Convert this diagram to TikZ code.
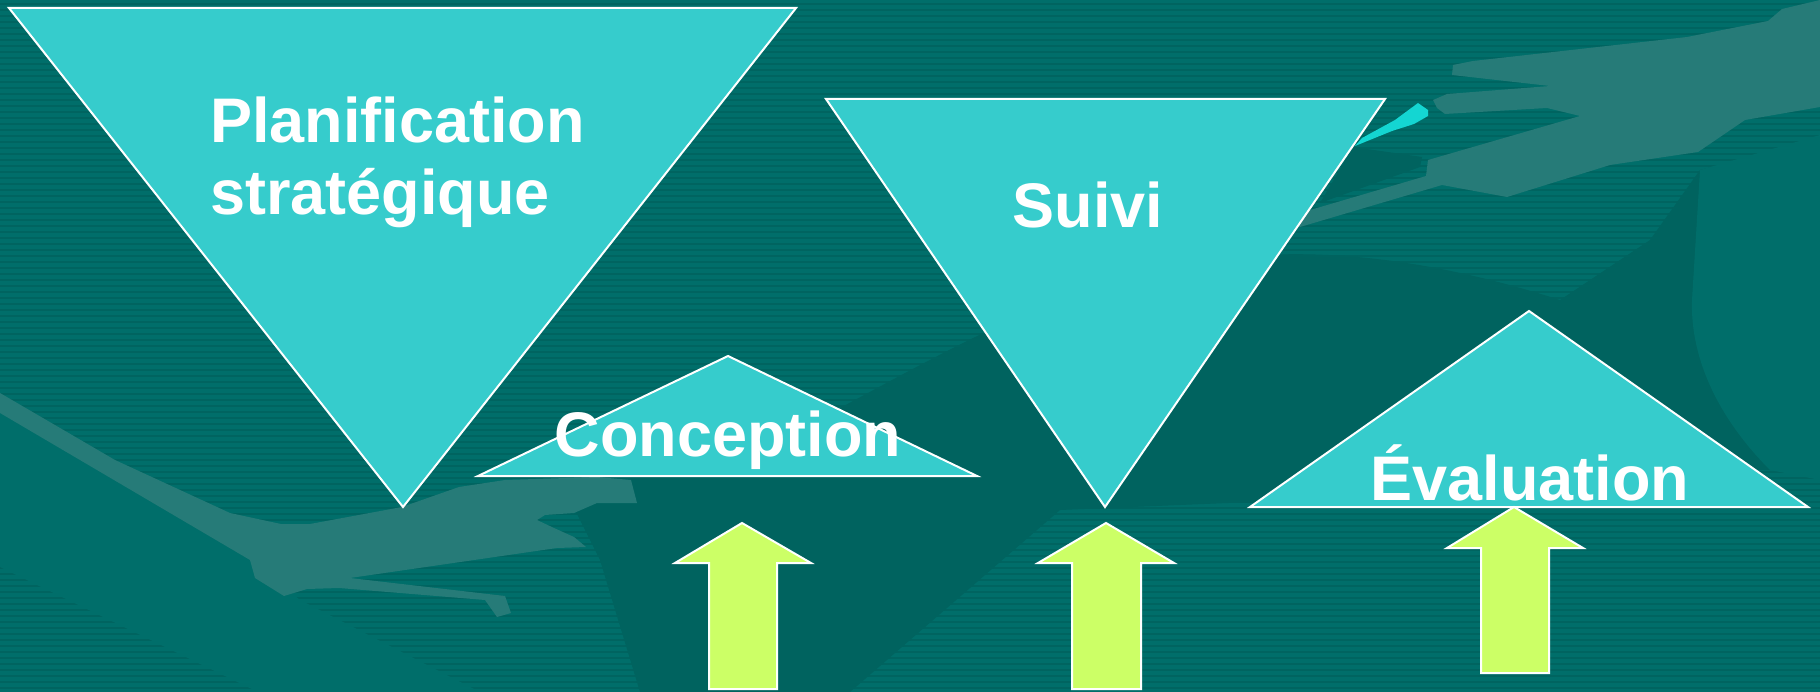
\documentclass[tikz,border=0pt]{standalone}
\usepackage{fontspec}
\setmainfont{Liberation Sans}
\definecolor{bgteal}{HTML}{006E6A}
\definecolor{stripe}{HTML}{006460}
\definecolor{darkblob}{HTML}{00635F}
\definecolor{midteal}{HTML}{006E6A}
\definecolor{handlight}{HTML}{267B78}
\definecolor{sliver}{HTML}{14D6D2}
\definecolor{trifill}{HTML}{36CCCC}
\definecolor{arrowfill}{HTML}{CCFF66}
\tikzset{
  tri/.style={fill=trifill, draw=white, line width=2pt, line join=miter},
  uparrow/.style={fill=arrowfill, draw=white, line width=2pt, line join=miter},
  lbl/.style={text=white, font=\bfseries\fontsize{63}{68}\selectfont, inner sep=0pt},
}
\begin{document}
\begin{tikzpicture}[x=1pt,y=-1pt]
\useasboundingbox (0,0) rectangle (1820,692);
% background
\fill[bgteal] (0,0) rectangle (1820,692);
\foreach \k in {0,...,115} \fill[stripe] (0,\k*6+3) rectangle (1820,\k*6+5.2);
% solid dark region (shadow)
\fill[darkblob] (560,480) -- (760,450) .. controls (900,380) and (1050,280) .. (1200,262)
  .. controls (1300,245) and (1420,255) .. (1560,300) -- (1650,240) -- (1700,170) -- (1820,140)
  -- (1820,470) -- (1700,470) -- (1600,480) -- (1300,500) -- (1060,510)
  -- (850,692) -- (640,692) -- (600,560) -- cycle;
\fill[midteal] (1700,170) -- (1820,135) -- (1820,480) -- (1770,470)
  .. controls (1720,420) and (1690,360) .. (1692,300) -- cycle;
\fill[bgteal] (0,413) -- (250,560) -- (300,600) -- (480,692) -- (258,692) -- (0,567) -- cycle;
% left arm / hand
\fill[handlight] (0,393) -- (115,460) -- (230,513) -- (281,524) -- (310,524) -- (402,507) -- (459,487)
  -- (505,480) -- (597,477) -- (631,480) -- (637,503) -- (597,503) -- (574,513) -- (545,515) -- (537,520)
  -- (554,528) -- (574,537) -- (586,547) -- (557,548) -- (350,578) -- (505,596) -- (511,613) -- (497,617)
  -- (485,600) -- (339,588) -- (307,589) -- (284,596) -- (255,578) -- (250,560) -- (0,413) -- cycle;
% right hand
\fill[handlight] (1820,0) -- (1782,9) -- (1768,21) -- (1687,37) -- (1473,61) -- (1453,65) -- (1452,75)
  -- (1550,86) -- (1447,94) -- (1433,100) -- (1437,108) -- (1445,114) -- (1547,108) -- (1580,116)
  -- (1428,160) -- (1426,176) -- (1300,213) -- (1290,222) -- (1300,227) -- (1442,185) -- (1507,197)
  -- (1610,165) -- (1698,152) -- (1745,120) -- (1820,107) -- cycle;
\fill[darkblob] (1353,147) -- (1422,157) -- (1420,167) -- (1320,203) -- cycle;
\fill[sliver] (1418,103) -- (1428,110) -- (1428,116) -- (1414,124) -- (1392,131) -- (1355,146)
  -- (1362,138) -- (1395,120) -- cycle;
% triangles
\draw[tri] (9,8) -- (796,8) -- (403,507) -- cycle;
\draw[tri] (728,356) -- (977,476) -- (478,476) -- cycle;
\draw[tri] (826,99) -- (1385,99) -- (1105,507) -- cycle;
\draw[tri] (1529,311) -- (1808,507) -- (1250,507) -- cycle;
% arrows
\draw[uparrow] (742,523) -- (811,563) -- (777,563) -- (777,689) -- (709,689) -- (709,563) -- (675,563) -- cycle;
\draw[uparrow] (1106,523) -- (1174,563) -- (1141,563) -- (1141,689) -- (1072,689) -- (1072,563) -- (1038,563) -- cycle;
\draw[uparrow] (1514,507) -- (1583,548) -- (1549,548) -- (1549,673) -- (1481,673) -- (1481,548) -- (1447,548) -- cycle;
% labels
\node[lbl, anchor=base west] (plan1) at (210,143) {Planification};
\node[lbl, anchor=base west] (plan2) at (210,215) {stratégique};
\node[lbl, anchor=base] (conc) at (728,456) {Conception};
\node[lbl, anchor=base] (suivi) at (1088,228) {Suivi};
\node[lbl, anchor=base] (eval) at (1530,500) {Évaluation};
\end{tikzpicture}
\end{document}
